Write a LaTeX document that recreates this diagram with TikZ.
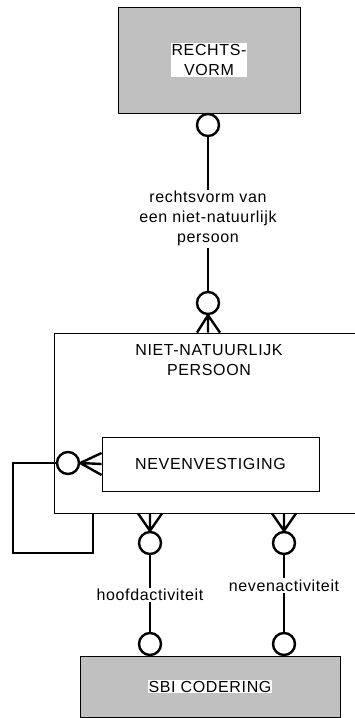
\documentclass[tikz,border=0pt]{standalone}
\usepackage{fontspec}
\setmainfont[LetterSpace=4]{Liberation Sans}
\definecolor{boxgray}{RGB}{192,192,192}

\begin{document}
\begin{tikzpicture}[x=1pt,y=-1pt, font=\fontsize{16}{20}\selectfont,
    entity/.style={draw, line width=0.8pt, fill=boxgray, inner sep=0pt},
    plain/.style={draw, line width=0.8pt, fill=white, inner sep=0pt},
    tag/.style={fill=white, inner sep=1pt, align=center},
    ring/.style={circle, draw, line width=2.4pt, fill=white, minimum size=22pt, inner sep=0pt},
    rel/.style={line width=2.4pt},
    lbl/.style={fill=white, inner sep=1.5pt, align=center}]
    \useasboundingbox (0,0) rectangle (355,718);
    \clip (0,0) rectangle (355,718);

    % entities
    \node[entity, minimum width=182pt, minimum height=106pt] (rv) at (209,60) {};
    \node[tag] (rvtag) at (rv) {RECHTS-\\VORM};
    \node[plain, minimum width=304pt, minimum height=180pt] (nnp) at (206,423) {};
    \node[align=center] (nnptag) at (209,360) {NIET-NATUURLIJK\\PERSOON};
    \node[plain, minimum width=217pt, minimum height=54pt] (nv) at (210.5,464) {NEVENVESTIGING};
    \node[entity, minimum width=260pt, minimum height=61pt] (sbi) at (210,686.5) {};
    \node[tag] (sbitag) at (sbi) {SBI CODERING};

    % optional ends
    \node[ring] (r1) at (208,125) {};
    \node[ring] (r2) at (208,303) {};
    \node[ring] (r3) at (68,463) {};
    \node[ring] (r4) at (150,543) {};
    \node[ring] (r5) at (284,543) {};
    \node[ring] (r6) at (150,644) {};
    \node[ring] (r7) at (284,644) {};

    \coordinate (t2) at (r2.south |- nnp.north);
    \coordinate (b4) at (r4.north |- nnp.south);
    \coordinate (b5) at (r5.north |- nnp.south);
    \coordinate (loopend) at (93,513);

    % relations
    \draw[rel] (r1) -- (r2) node[lbl, pos=0.53] (l1) {rechtsvorm van\\een niet-natuurlijk\\persoon};
    \draw[rel] (r2.south) -- (t2) (r2.south) -- ([xshift=-11pt]t2) (r2.south) -- ([xshift=12pt]t2);

    \draw[rel] (r3.east) -- (nv.west) (r3.east) -- ([yshift=11pt]nv.west) (r3.east) -- ([yshift=-11pt]nv.west);
    \draw[rel] (r3.west) -- (13,463) -- (13,553) -- (93,553) -- (loopend);

    \draw[rel] (r4.north) -- (b4) (r4.north) -- ([xshift=-12pt]b4) (r4.north) -- ([xshift=12pt]b4);
    \draw[rel] (r5.north) -- (b5) (r5.north) -- ([xshift=-12pt]b5) (r5.north) -- ([xshift=12pt]b5);
    \draw[rel] (r4) -- (r6) node[lbl, pos=0.52] (l2) {hoofdactiviteit};
    \draw[rel] (r5) -- (r7) node[lbl, pos=0.4] (l3) {nevenactiviteit};
\end{tikzpicture}
\end{document}
